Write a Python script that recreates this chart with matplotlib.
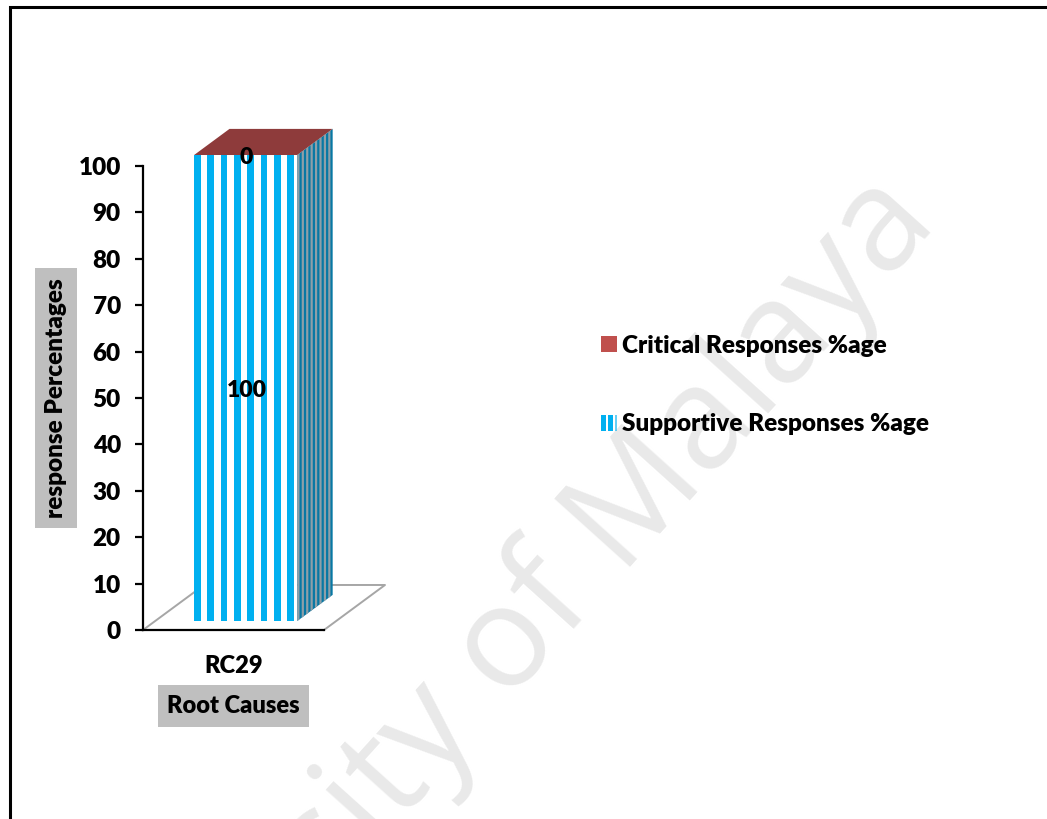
import matplotlib
matplotlib.use("Agg")
import matplotlib.pyplot as plt
from matplotlib.lines import Line2D
from matplotlib.patches import Patch, Polygon, Rectangle
from matplotlib.legend_handler import HandlerBase

categories = ["RC29"]
supportive = [100]
critical = [0]
y_ticks = [0, 10, 20, 30, 40, 50, 60, 70, 80, 90, 100]

CYAN = "#00b0f0"
RED = "#c0504d"
TOP_RED = "#8e3b3b"
SIDE_DARK = "#0878a4"
SIDE_GRAY = "#8f9fa8"
FLOOR = "#a6a6a6"
WEIGHT = 800

# fake 3D: how far one unit of depth shifts a point, in data units
DEPTH_X = 0.337
DEPTH_Y = 9.7
BAR_WIDTH = 0.57
DEPTH_FRONT = 0.2
DEPTH_BACK = 0.78
HEIGHT_STRETCH = 1.0043
N_STRIPES = 8

plt.rcParams["font.family"] = ["Lato", "DejaVu Sans"]
plt.rcParams["font.weight"] = WEIGHT


def project(x, y, d):
    return x + d * DEPTH_X, y + d * DEPTH_Y


def face(ax, corners, color, zorder=3):
    ax.add_patch(Polygon(corners, closed=True, facecolor=color, edgecolor="none",
                         clip_on=False, zorder=zorder))


def draw_bar(ax, center, bottom, top, top_value):
    x0 = center - BAR_WIDTH / 2
    x1 = center + BAR_WIDTH / 2
    top = top * HEIGHT_STRETCH

    # front face, white base with vertical stripes
    face(ax, [project(x0, bottom, DEPTH_FRONT), project(x1, bottom, DEPTH_FRONT),
              project(x1, top, DEPTH_FRONT), project(x0, top, DEPTH_FRONT)], "white")
    period = BAR_WIDTH / (N_STRIPES - 0.25)
    for i in range(N_STRIPES):
        a = x0 + i * period
        b = a + period * 0.5
        face(ax, [project(a, bottom, DEPTH_FRONT), project(b, bottom, DEPTH_FRONT),
                  project(b, top, DEPTH_FRONT), project(a, top, DEPTH_FRONT)], CYAN, 4)

    # right side, stripes run back along the depth
    face(ax, [project(x1, bottom, DEPTH_FRONT), project(x1, bottom, DEPTH_BACK),
              project(x1, top, DEPTH_BACK), project(x1, top, DEPTH_FRONT)], SIDE_DARK)
    step = (DEPTH_BACK - DEPTH_FRONT) / (2 * N_STRIPES)
    for i in range(0, 2 * N_STRIPES, 2):
        d0 = DEPTH_FRONT + i * step
        d1 = d0 + step
        face(ax, [project(x1, bottom, d0), project(x1, bottom, d1),
                  project(x1, top, d1), project(x1, top, d0)], SIDE_GRAY, 4)

    # zero height critical segment only shows as the lid
    lid = top + top_value
    face(ax, [project(x0, lid, DEPTH_FRONT), project(x1, lid, DEPTH_FRONT),
              project(x1, lid, DEPTH_BACK), project(x0, lid, DEPTH_BACK)], TOP_RED)


def value_label(ax, x, y, value):
    ax.annotate(str(value), (x, y), xytext=(0.7, -1.6), textcoords="offset points",
                ha="center", va="center", fontsize=16.5, color="black", zorder=6,
                annotation_clip=False)


class StripeHandler(HandlerBase):
    def create_artists(self, legend, orig_handle, xdescent, ydescent, width, height, fontsize, trans):
        bars = []
        for frac, w, alpha in [(0.0, 0.3, 1), (0.46, 0.3, 1), (0.92, 0.08, 0.6)]:
            bars.append(Rectangle((-xdescent + frac * width, -ydescent), w * width, height,
                                  facecolor=CYAN, edgecolor="none", alpha=alpha,
                                  transform=trans))
        return bars


fig = plt.figure(figsize=(10.47, 8.19), dpi=100, facecolor="white")

fig.text(0.897, 0.727, "University of Malaya", family="Open Sans", weight="normal",
         fontsize=103, color="#e9e9e9", rotation=48, rotation_mode="anchor",
         ha="right", va="baseline", zorder=0)

# page frame
fig.add_artist(Line2D([10 / 1047, 10 / 1047, 1], [0, 1 - 7 / 819, 1 - 7 / 819],
                      color="black", lw=2.2, solid_joinstyle="miter"))

ax = fig.add_axes([143 / 1047, 1 - 630 / 819, 181 / 1047, 464 / 819])
ax.patch.set_visible(False)
ax.set_xlim(0, 1)
ax.set_ylim(0, 100)

# floor of the 3D plot
floor = [project(0, 0, 0), project(0, 0, 1), project(1, 0, 1), project(1, 0, 0)]
ax.add_line(Line2D(*zip(*floor), color=FLOOR, lw=1.4, clip_on=False, zorder=1))

for i, cat in enumerate(categories):
    center = (i + 0.5) / len(categories)
    draw_bar(ax, center, 0, supportive[i], critical[i])
    lx, ly = project(center, supportive[i] * HEIGHT_STRETCH / 2, DEPTH_FRONT)
    value_label(ax, lx, ly, supportive[i])
    lx, ly = project(center, (supportive[i] + critical[i]) * HEIGHT_STRETCH, DEPTH_FRONT)
    value_label(ax, lx, ly, critical[i])

ax.spines["top"].set_visible(False)
ax.spines["right"].set_visible(False)
ax.spines["left"].set_linewidth(1.6)
ax.spines["bottom"].set_linewidth(1.6)
ax.spines["bottom"].set_zorder(5)

ax.set_yticks(y_ticks)
ax.set_xticks([(i + 0.5) / len(categories) for i in range(len(categories))])
ax.set_xticklabels(categories)
ax.tick_params(axis="y", length=5.5, width=1.6, labelsize=17.5, pad=10.5)
ax.tick_params(axis="x", length=0, labelsize=17, pad=18)

label_box = dict(facecolor="#bfbfbf", edgecolor="none", pad=7)
ax.set_ylabel("response Percentages", fontsize=17.5, fontweight=WEIGHT, bbox=label_box)
ax.yaxis.set_label_coords(-76 / 181, 0.5)
ax.set_xlabel("Root Causes", fontsize=17, fontweight=WEIGHT, bbox=label_box)
ax.xaxis.set_label_coords(0.5, -65 / 464)

handles = [Patch(facecolor=RED, edgecolor="none"), Patch(facecolor=CYAN, edgecolor="none")]
fig.legend(handles, ["Critical Responses %age", "Supportive Responses %age"],
           handler_map={handles[1]: StripeHandler()}, loc="center left",
           bbox_to_anchor=(579 / 1047, 1 - 385 / 819), frameon=False, fontsize=17.5,
           labelspacing=2.32, handlelength=0.65, handleheight=0.63, handletextpad=0.2)

fig.savefig("out.png", dpi=100)
